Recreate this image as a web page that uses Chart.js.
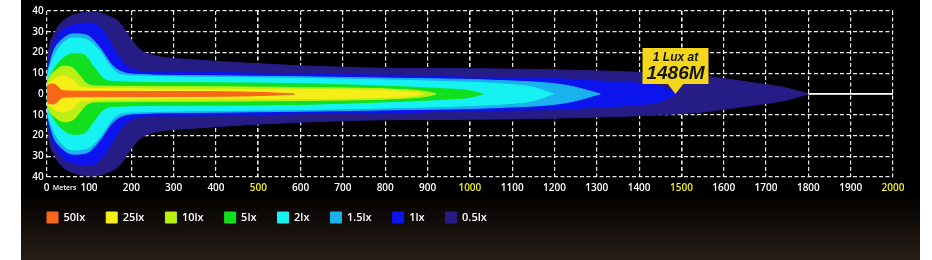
<!DOCTYPE html>
<html><head><meta charset="utf-8">
<script src="https://cdn.jsdelivr.net/npm/chart.js@4.4.0/dist/chart.umd.min.js"></script>
<style>
html,body{margin:0;padding:0;background:#fff;}
#wrap{position:relative;width:932px;height:260px;overflow:hidden;}
#panel{position:absolute;left:21px;top:0;width:899px;height:260px;background:linear-gradient(to bottom,#000 0%,#000 74%,#120d0a 86%,#281d16 100%);}
canvas{position:absolute;left:0;top:0;}
</style></head><body>
<div id="wrap"><div id="panel"></div><canvas id="c" width="932" height="260"></canvas></div>
<script>
// Lux levels (legend) and colours
const levels = ['50lx', '25lx', '10lx', '5lx', '2lx', '1.5lx', '1lx', '0.5lx'];
const levelColors = ['#f8661a', '#f6ee18', '#bcf014', '#12e01e', '#16f2f2', '#1ab2ee', '#0c14ee', '#261c86'];

// Beam contours: distance (m) and half-width (m) for each lux level
const dist50 = [0, 4, 16, 25, 32, 47, 100, 300, 450, 540, 585];
const half50 = [3, 4.4, 4.8, 3.8, 2.2, 1.5, 1.3, 1.2, 1.0, 0.5, 0];

const dist25 = [0, 4, 16, 40, 63, 79, 150, 340, 600, 800, 860, 890];
const half25 = [3.5, 4.6, 7, 8.6, 6.6, 3.4, 2.6, 2.2, 2.2, 1.6, 1.0, 0];

const dist10 = [0, 4, 24, 40, 63, 79, 95, 118, 340, 600, 850, 900, 920];
const half10 = [4, 7, 11.8, 13.4, 12.3, 8.6, 5, 3.8, 3.5, 3.1, 2.0, 1.0, 0];

const dist5 = [0, 8, 16, 40, 63, 87, 110, 134, 166, 340, 600, 850, 950, 1000, 1031];
const half5 = [5, 8.6, 11.8, 17.4, 19.4, 19, 13.4, 7.5, 5.9, 5.4, 5, 3.4, 2.4, 1.6, 0];

const dist2 = [0, 8, 32, 63, 95, 126, 150, 174, 221, 340, 600, 850, 1000, 1071, 1150, 1197];
const half2 = [7, 13.4, 23, 27, 26.2, 20.6, 13.4, 9.4, 8.6, 8.1, 7.5, 6.5, 5.6, 4.9, 3.2, 0];

const dist15 = [0, 16, 32, 63, 95, 126, 150, 174, 221, 340, 600, 850, 1071, 1230, 1308];
const half15 = [9, 20.6, 25.4, 29, 28.3, 22.2, 15, 11, 9.4, 8.9, 8.3, 7.5, 6.5, 4.1, 0];

const dist1 = [0, 8, 16, 32, 63, 103, 134, 158, 182, 205, 245, 340, 600, 850, 1000, 1230, 1308, 1400, 1450, 1490];
const half1 = [11, 17.4, 23.8, 29.4, 33.4, 34.2, 30.2, 22.2, 15, 11.8, 10.6, 10.5, 9.5, 8.9, 8, 7.2, 6.2, 5.2, 3.6, 0];

const dist05 = [0, 8, 16, 32, 63, 103, 142, 174, 197, 221, 260, 340, 600, 850, 1000, 1308, 1400, 1544, 1663, 1742, 1800];
const half05 = [14, 25, 28.6, 34, 38, 39.5, 38, 34, 27, 21.4, 18.2, 16.6, 13.6, 12.3, 12.2, 11.1, 10.4, 8.8, 5.6, 3.2, 0];

const contourDist = [dist50, dist25, dist10, dist5, dist2, dist15, dist1, dist05];
const contourHalf = [half50, half25, half10, half5, half2, half15, half1, half05];

// Axis ticks
const xTickValues = [0, 100, 200, 300, 400, 500, 600, 700, 800, 900, 1000, 1100, 1200, 1300, 1400, 1500, 1600, 1700, 1800, 1900, 2000];
const xHighlightTicks = [500, 1000, 1500, 2000];
const yTickValues = [-40, -30, -20, -10, 0, 10, 20, 30, 40];
const xUnitLabel = 'Meters';

// Callout
const calloutDistance = 1486;
const calloutLines = ['1 Lux at', '1486M'];
const endLine = [{x: 1800, y: 0}, {x: 2000, y: 0}];

const datasets = [];
levels.forEach((lv, i) => {
  const c = levelColors[i];
  const d = contourDist[i], h = contourHalf[i];
  datasets.push({
    label: lv,
    data: d.map((x, j) => ({x: x, y: h[j]})),
    backgroundColor: c, borderColor: c, borderWidth: 1,
    fill: '+1', pointRadius: 0, cubicInterpolationMode: 'monotone'
  });
  datasets.push({
    label: '',
    data: d.map((x, j) => ({x: x, y: -h[j]})),
    backgroundColor: c, borderColor: c, borderWidth: 1,
    fill: false, pointRadius: 0, cubicInterpolationMode: 'monotone'
  });
});

const FONT = "'Open Sans', 'Liberation Sans', sans-serif";

const extrasPlugin = {
  id: 'extras',
  afterDatasetsDraw(chart) {
    const ctx = chart.ctx;
    const xs = chart.scales.x, ys = chart.scales.y;
    // end-of-beam white line
    ctx.save();
    ctx.strokeStyle = '#ffffff';
    ctx.lineWidth = 1.6;
    ctx.beginPath();
    ctx.moveTo(xs.getPixelForValue(endLine[0].x), ys.getPixelForValue(endLine[0].y));
    ctx.lineTo(xs.getPixelForValue(endLine[1].x), ys.getPixelForValue(endLine[1].y));
    ctx.stroke();
    // callout
    const px = xs.getPixelForValue(calloutDistance);
    const py = ys.getPixelForValue(0);
    const w = 66, hgt = 36, gap = 10;
    ctx.fillStyle = '#f4d61a';
    ctx.beginPath();
    ctx.rect(px - w / 2, py - gap - hgt, w, hgt);
    ctx.fill();
    ctx.beginPath();
    ctx.moveTo(px - 8, py - gap - 0.5);
    ctx.lineTo(px + 8, py - gap - 0.5);
    ctx.lineTo(px, py);
    ctx.closePath();
    ctx.fill();
    ctx.fillStyle = '#151515';
    ctx.textAlign = 'center';
    ctx.textBaseline = 'middle';
    ctx.font = "italic bold 12px 'Liberation Sans', Arial, sans-serif";
    ctx.fillText(calloutLines[0], px, py - gap - hgt + 10);
    ctx.font = "italic bold 19px 'Liberation Sans', Arial, sans-serif";
    ctx.fillText(calloutLines[1], px, py - gap - hgt + 26);
    ctx.restore();
  },
  afterDraw(chart) {
    const ctx = chart.ctx;
    const xs = chart.scales.x;
    ctx.save();
    ctx.fillStyle = '#ffffff';
    ctx.font = "600 7px " + FONT;
    ctx.textAlign = 'left';
    ctx.textBaseline = 'middle';
    ctx.fillText(xUnitLabel, xs.getPixelForValue(0) + 6, chart.chartArea.bottom + 11);
    ctx.restore();
  }
};

new Chart(document.getElementById('c'), {
  type: 'line',
  data: {datasets: datasets},
  plugins: [extrasPlugin],
  options: {
    responsive: false,
    animation: false,
    events: [],
    layout: {padding: {left: 26, right: 39, top: 11, bottom: 27}},
    scales: {
      x: {
        type: 'linear', min: 0, max: 2000,
        afterBuildTicks: s => { s.ticks = xTickValues.map(v => ({value: v})); },
        afterFit: s => { s.height = 14; },
        ticks: {
          autoSkip: false, maxRotation: 0, padding: 5,
          color: c => xHighlightTicks.includes(c.tick.value) ? '#f2ee22' : '#ffffff',
          font: {family: FONT, size: 10, weight: '600'},
          callback: v => String(v)
        },
        grid: {
          color: 'rgba(255,255,255,0.92)',
          lineWidth: c => (c.tick && xHighlightTicks.includes(c.tick.value) && c.tick.value < 2000) ? 1.6 : 1.2,
          drawTicks: false
        },
        border: {display: false, dash: [4, 2.5]}
      },
      y: {
        type: 'linear', min: -40, max: 40,
        afterBuildTicks: s => { s.ticks = yTickValues.map(v => ({value: v})); },
        afterFit: s => { s.width = 20.7; },
        ticks: {
          padding: 3, color: '#ffffff',
          font: {family: FONT, size: 10, weight: '600'},
          callback: v => String(Math.abs(v))
        },
        grid: {color: 'rgba(255,255,255,0.92)', lineWidth: 1.2, drawTicks: false},
        border: {display: false, dash: c => (c.tick && c.tick.value === 0) ? [] : [4, 2.5]}
      }
    },
    plugins: {
      tooltip: {enabled: false},
      legend: {
        display: true, position: 'bottom', align: 'start',
        labels: {
          color: '#ffffff', boxWidth: 11, boxHeight: 11, padding: 21,
          font: {family: FONT, size: 11, weight: '600'},
          filter: item => item.text !== ''
        }
      }
    }
  }
});
</script>
</body></html>
